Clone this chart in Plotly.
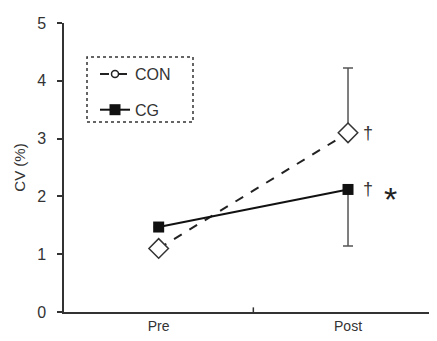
import plotly.graph_objects as go

categories = ["Pre", "Post"]
x_pos = [0.5, 1.5]
con_values = [1.1, 3.1]
con_err_plus = [0, 1.12]
cg_values = [1.47, 2.12]
cg_err_minus = [0, 0.98]
y_ticks = [0, 1, 2, 3, 4, 5]

fig = go.Figure()

# CON
fig.add_trace(go.Scatter(
    x=x_pos, y=con_values, mode="lines+markers", showlegend=False,
    line=dict(color="#222", width=2, dash="dash"),
    marker=dict(symbol="diamond", size=15, color="white", line=dict(color="#333", width=1.5)),
    error_y=dict(type="data", symmetric=False, array=con_err_plus, arrayminus=[0, 0],
                 color="#555", thickness=1.5, width=5),
))
# CG
fig.add_trace(go.Scatter(
    x=x_pos, y=cg_values, mode="lines+markers", showlegend=False,
    line=dict(color="#111", width=2),
    marker=dict(symbol="square", size=11, color="#111"),
    error_y=dict(type="data", symmetric=False, array=[0, 0], arrayminus=cg_err_minus,
                 color="#555", thickness=1.5, width=5),
))
# Legend entries
fig.add_trace(go.Scatter(
    x=[None], y=[None], mode="lines+markers", name="CON", legendgroup="a",
    line=dict(color="#222", width=2, dash="dash"),
    marker=dict(symbol="circle", size=7, color="white", line=dict(color="#222", width=1.5)),
))
fig.add_trace(go.Scatter(
    x=[None], y=[None], mode="lines+markers", name="CG", legendgroup="b",
    line=dict(color="#111", width=2),
    marker=dict(symbol="square", size=11, color="#111"),
))

# significance marks
fig.add_annotation(x=x_pos[1], y=con_values[1], text="†", showarrow=False,
                   xshift=20, font=dict(size=18, color="#333"))
fig.add_annotation(x=x_pos[1], y=cg_values[1], text="†", showarrow=False,
                   xshift=20, font=dict(size=18, color="#333"))
fig.add_annotation(x=x_pos[1], y=cg_values[1], text="*", showarrow=False,
                   xshift=42, yshift=-10, font=dict(size=34, color="#222"))

# legend border (dotted)
fig.add_shape(type="rect", xref="paper", yref="paper",
              x0=(87 - 64) / 373, x1=(193 - 64) / 373,
              y0=(312 - 122) / 289, y1=(312 - 57) / 289,
              line=dict(color="#333", width=1.5, dash="dot"))
# middle x tick
fig.add_shape(type="line", x0=1, x1=1, y0=-0.08, y1=0.08,
              line=dict(color="#333", width=1.5))

fig.update_layout(
    width=429, height=333,
    margin=dict(l=56, r=0, t=15, b=29),
    plot_bgcolor="white", paper_bgcolor="white",
    font=dict(family="Liberation Sans, Arial, sans-serif", color="#333", size=14),
    legend=dict(x=(95 - 64) / 373, y=(312 - 57) / 289, xanchor="left", yanchor="top",
                bgcolor="rgba(0,0,0,0)", tracegroupgap=12, traceorder="grouped",
                font=dict(size=16, color="#333")),
    xaxis=dict(range=[0, 1.97], tickvals=x_pos, ticktext=categories, ticks="",
               showgrid=False, zeroline=False, showline=True, linecolor="#333",
               linewidth=1.5, tickfont=dict(size=14, color="#333")),
    yaxis=dict(range=[0, 5], tickvals=y_ticks, ticks="outside", ticklen=5,
               tickcolor="#333", tickwidth=1.5, showgrid=False, zeroline=False,
               showline=True, linecolor="#333", linewidth=1.5,
               ticklabelstandoff=8,
               tickfont=dict(size=16, color="#333"),
               title=dict(text="CV (%)", font=dict(size=15, color="#333"), standoff=8)),
)

fig.write_html("out.html")
